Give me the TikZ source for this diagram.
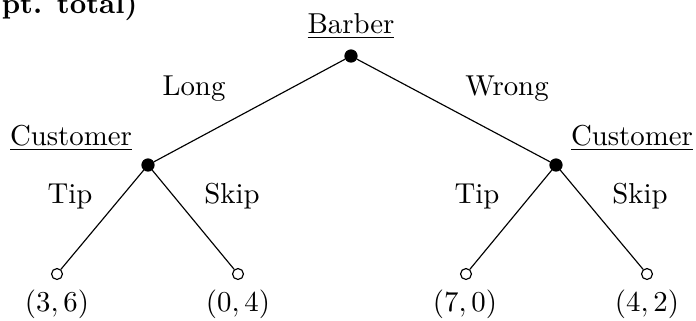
\documentclass[tikz,border=0pt]{standalone}
\begin{document}
\begin{tikzpicture}[x=0.3472pt, y=-0.3472pt,
  decnode/.style={circle, fill=black, draw=black, inner sep=0pt, minimum size=4.2pt},
  termnode/.style={circle, draw=black, fill=white, inner sep=0pt, minimum size=3.8pt},
  lbl/.style={anchor=base, inner sep=0pt},
  edge/.style={draw=black, line width=0.4pt}]
\useasboundingbox (0,0) rectangle (696,320);
% partial title
\node[anchor=base east, inner sep=0pt, font=\bfseries] (title) at (138,13) {pt. total)};
% decision nodes
\node[decnode] (b) at (351,56) {};
\node[decnode] (cl) at (148,165) {};
\node[decnode] (cr) at (556,165) {};
% terminal nodes
\node[termnode] (t1) at (57,274) {};
\node[termnode] (t2) at (238,274) {};
\node[termnode] (t3) at (466,274) {};
\node[termnode] (t4) at (647,274) {};
% edges
\draw[edge] (b) -- (cl);
\draw[edge] (b) -- (cr);
\draw[edge] (cl) -- (t1);
\draw[edge] (cl) -- (t2);
\draw[edge] (cr) -- (t3);
\draw[edge] (cr) -- (t4);
% player labels
\node[lbl] (lb) at (351,33) {\underline{Barber}};
\node[lbl] (lcl) at (71,145) {\underline{Customer}};
\node[lbl] (lcr) at (632,145) {\underline{Customer}};
% action labels
\node[lbl] (along) at (194,95) {Long};
\node[lbl] (awrong) at (507,95) {Wrong};
\node[lbl] (atip1) at (70,203) {Tip};
\node[lbl] (askip1) at (232,203) {Skip};
\node[lbl] (atip2) at (477,203) {Tip};
\node[lbl] (askip2) at (640,203) {Skip};
% payoffs
\node[lbl] (p1) at (57,311) {$(3,6)$};
\node[lbl] (p2) at (238,311) {$(0,4)$};
\node[lbl] (p3) at (465,311) {$(7,0)$};
\node[lbl] (p4) at (647,311) {$(4,2)$};
\end{tikzpicture}
\end{document}
